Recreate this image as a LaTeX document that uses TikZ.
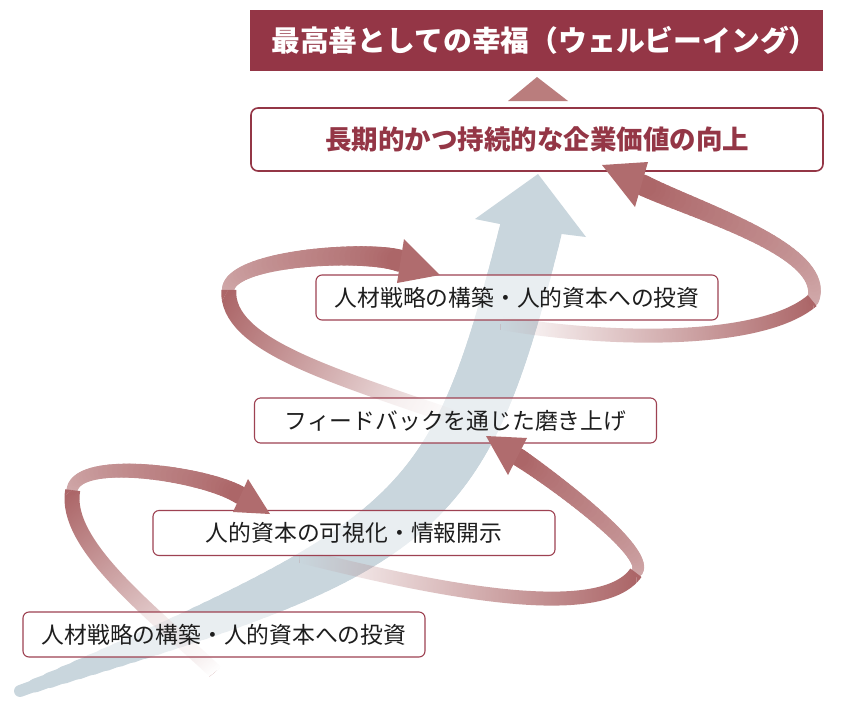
\documentclass[tikz,border=0pt]{standalone}
\usepackage{fontspec}
\newfontfamily\jp{Noto Sans CJK JP}
\usetikzlibrary{fadings}
\definecolor{maroon}{RGB}{148,54,70}
\definecolor{boxline}{RGB}{158,66,82}
\definecolor{ribc}{RGB}{172,102,104}
\definecolor{headc}{RGB}{176,108,110}
\definecolor{bluec}{RGB}{201,214,221}
\definecolor{tric}{RGB}{186,125,125}
\definecolor{txt}{RGB}{30,30,30}

\begin{tikzfadingfrompicture}[name=fadein]
  \path (-3,-3) rectangle (3,3);
  \shade[left color=transparent!100, right color=transparent!0] (-1,-3) rectangle (1,3);
  \fill[transparent!0] (1,-3) rectangle (3,3);
\end{tikzfadingfrompicture}

\def\ribN{40}
% opaque ribbon part: colour and width ramps
\newcommand\ribB[8]{%
  \foreach \k in {0,...,\ribN}{%
    \pgfmathsetmacro\rbt{\k/\ribN}%
    \path (#1) .. controls (#2) and (#3) .. (#4) coordinate[pos=\rbt] (rb\k);%
  }%
  \foreach \k [remember=\k as \kp (initially 0)] in {1,...,\ribN}{%
    \pgfmathsetmacro\rbm{#5+(#6-#5)*\k/\ribN}%
    \pgfmathsetmacro\rbw{#7+(#8-#7)*\k/\ribN}%
    \draw[line width=\rbw pt, draw=ribc!\rbm!white, line cap=round] (rb\kp) -- (rb\k);%
  }%
}
% fading ribbon part
\newcommand\ribA[8]{%
  \draw[line width=#5pt, ribc, path fading=fadein, fit fading=false,
        fading transform={shift={(#6)}, rotate=#7, scale=#8}]
        (#1) .. controls (#2) and (#3) .. (#4);%
}

\tikzset{
  lbl/.style={draw=boxline, line width=1.1pt, rounded corners=6pt, fill=white,
    fill opacity=0.6, text opacity=1, text=txt,
    font=\jp\fontsize{22.8}{26}\selectfont, inner sep=0pt,
    minimum height=45pt, minimum width=402pt},
  topbox/.style={fill=maroon, minimum width=573pt, minimum height=61pt, inner sep=0pt,
    text=white, font=\jp\bfseries\fontsize{28.8}{32}\selectfont},
  goalbox/.style={draw=maroon, line width=1.6pt, rounded corners=7pt, fill=white,
    minimum width=572pt, minimum height=63pt, inner sep=0pt, text=maroon,
    font=\jp\bfseries\fontsize{26.5}{30}\selectfont},
  head/.style={fill=headc},
}

\begin{document}
\begin{tikzpicture}[x=1pt,y=-1pt]
\useasboundingbox (0,0) rectangle (846,710);
\fill[white] (0,0) rectangle (846,710);

% big blue arrow
\foreach \k in {0,...,80}{%
  \pgfmathsetmacro\rbt{\k/80}%
  \path (20,691) .. controls (424,544) and (458,520) .. (531,229) coordinate[pos=\rbt] (bl\k);%
}
\foreach \k [remember=\k as \kp (initially 0)] in {1,...,80}{%
  \pgfmathsetmacro\rbw{10+52*(1-(1-\k/80)^3)}%
  \draw[line width=\rbw pt, bluec, line cap=round] (bl\kp) -- (bl\k);%
}
\fill[bluec] (500,224) -- (475,219) -- (538,174) -- (586,237) -- (562,234) -- cycle;

% ribbons: front parts
\ribB{72,490}{78,455}{206.5,474}{240.5,495.5}{55}{100}{11}{18}
\ribB{637,572}{651,551.5}{547,475.6}{517.5,456.5}{55}{100}{11}{18}
\ribB{228,290}{230,257}{367.5,249.5}{400.5,261}{55}{100}{12}{22}
\ribB{813,300}{830,250}{695.3,211}{641.5,184.5}{55}{100}{12}{21}
% ribbons: fading back parts
\ribA{215,672}{155,615}{62,545}{72,490}{15}{143.5,581}{128.2}{4.07}
\ribA{300,555}{420,585}{600,625}{637,572}{14}{468.5,563.5}{-2.9}{5.93}
\ribA{460,420}{330,375}{225,345}{228,290}{15}{344,355}{150.7}{4.67}
\ribA{500,322}{600,340}{760,345}{813,300}{14}{656.5,311}{4.0}{5.51}

% boxes
\node[topbox] (top) at (536.5,40.5) {\hspace*{16pt}最高善としての幸福（ウェルビーイング）};
\node[goalbox] (goal) at (537,139.5) {長期的かつ持続的な企業価値の向上};
\fill[tric] (508,101) -- (537,77) -- (568,101) -- cycle;
\node[lbl] (s3) at (517,297.5) {人材戦略の構築・人的資本への投資};
\node[lbl] (s2) at (455.5,420.5) {フィードバックを通じた磨き上げ};
\node[lbl] (s1) at (354,533) {人的資本の可視化・情報開示};
\node[lbl] (s0) at (224,634.5) {人材戦略の構築・人的資本への投資};

% arrow heads
\fill[head] (270,514) -- (248,479) -- (233,512) -- cycle;
\fill[head] (486,436) -- (527,438) -- (508,475) -- cycle;
\fill[head] (440,275) -- (404,239) -- (397,283) -- cycle;
\fill[head] (602,165) -- (648,162) -- (635,207) -- cycle;
\end{tikzpicture}
\end{document}
